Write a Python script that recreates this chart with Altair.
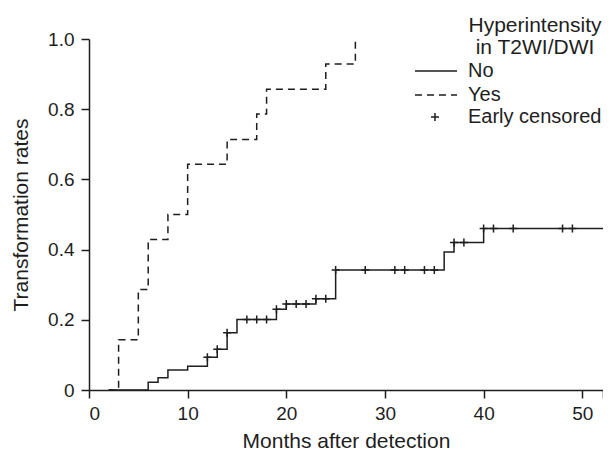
import altair as alt
import pandas as pd

# Kaplan-Meier style step values
no_t = [2, 6, 7, 8, 10, 12, 13, 14, 15, 19, 20, 23, 25, 36, 37, 40, 52.1]
no_v = [0, 0.022, 0.035, 0.057, 0.068, 0.093, 0.116, 0.163, 0.201, 0.230,
        0.245, 0.260, 0.342, 0.393, 0.420, 0.460, 0.460]
yes_t = [2, 3, 5, 6, 8, 10, 14, 17, 18, 24, 27]
yes_v = [0, 0.143, 0.286, 0.429, 0.5, 0.643, 0.714, 0.786, 0.857, 0.929, 1.0]
cens_t = [12, 13, 14, 16, 17, 18, 19, 20, 21, 22, 23, 24, 25, 28, 31, 32, 34,
          35, 37, 38, 40, 41, 43, 48, 49]
cens_v = [0.093, 0.116, 0.163, 0.201, 0.201, 0.201, 0.230, 0.245, 0.245,
          0.245, 0.260, 0.260, 0.342, 0.342, 0.342, 0.342, 0.342, 0.342,
          0.420, 0.420, 0.460, 0.460, 0.460, 0.460, 0.460]
x_ticks = [0, 10, 20, 30, 40, 50]
y_ticks = [0, 0.2, 0.4, 0.6, 0.8, 1.0]
x_max = 52.1

FONT = "Liberation Sans"
INK = "#1e1e1e"
PLUS = "M-1,0L1,0M0,-1L0,1"
LONG = "M-2.1,0L2.1,0"

lines_df = pd.DataFrame(
    [{"group": "No", "t": t, "v": v, "i": i} for i, (t, v) in enumerate(zip(no_t, no_v))]
    + [{"group": "Yes", "t": t, "v": v, "i": i} for i, (t, v) in enumerate(zip(yes_t, yes_v))]
)
cens_df = pd.DataFrame({"t": cens_t, "v": cens_v, "lab": "Early censored"})

xs = alt.Scale(domain=[0, x_max], nice=False, zero=False)
ys = alt.Scale(domain=[0, 1], nice=False)

x_axis = alt.Axis(values=x_ticks + [x_max], labelExpr="datum.value > 51 ? '' : datum.label",
                  title="Months after detection", grid=False)
y_axis = alt.Axis(values=y_ticks, labelExpr="datum.value == 0 ? '0' : format(datum.value, '.1f')",
                  title="Transformation rates", grid=False)

lines = alt.Chart(lines_df).mark_line(interpolate="step-after", strokeWidth=1.5, color=INK).encode(
    x=alt.X("t:Q", scale=xs, axis=x_axis),
    y=alt.Y("v:Q", scale=ys, axis=y_axis),
    order="i:Q",
    strokeDash=alt.StrokeDash(
        "group:N",
        scale=alt.Scale(domain=["No", "Yes"], range=[[1, 0], [7, 5]]),
        legend=alt.Legend(title=None, orient="none", legendX=336, legendY=21,
                          symbolType=LONG, symbolSize=400, symbolStrokeWidth=1.5,
                          symbolStrokeColor=INK, labelOffset=21, rowPadding=3,
                          labelFontSize=20, labelFont=FONT, labelColor=INK, padding=0),
    ),
)

points = alt.Chart(cens_df).mark_point(shape=PLUS, filled=False, size=64, strokeWidth=1.5,
                                       color=INK, opacity=1).encode(
    x=alt.X("t:Q", scale=xs),
    y=alt.Y("v:Q", scale=ys),
    shape=alt.Shape(
        "lab:N",
        scale=alt.Scale(domain=["Early censored"], range=[PLUS]),
        legend=alt.Legend(title=None, orient="none", legendX=336, legendY=68,
                          symbolSize=64, symbolStrokeWidth=1.5, symbolStrokeColor=INK,
                          symbolFillColor="transparent", labelOffset=23,
                          labelFontSize=20, labelFont=FONT, labelColor=INK, padding=0),
    ),
)

chart = (
    alt.layer(lines, points)
    .properties(
        width=514,
        height=351,
        autosize=alt.AutoSizeParams(type="none"),
        padding={"left": 81, "top": 31, "right": 0, "bottom": 61},
        title=alt.TitleParams(text=["Hyperintensity", "in T2WI/DWI"], anchor="start", align="center",
                              dx=446, dy=28, offset=0, fontSize=21, font=FONT, fontWeight="normal",
                              color=INK, lineHeight=22, frame="group"),
    )
    .configure_view(stroke=None)
    .configure_axis(
        domainColor=INK, domainWidth=1.5, tickColor=INK, tickWidth=1.5, tickSize=8,
        labelFont=FONT, labelFontSize=19, labelColor=INK, labelPadding=6,
        titleFont=FONT, titleFontSize=21, titleFontWeight="normal", titleColor=INK,
    )
    .configure_axisY(titlePadding=16, labelPadding=7)
    .configure_axisX(titlePadding=7)
)

chart.save("out.html", embed_options={"renderer": "svg", "actions": False})
